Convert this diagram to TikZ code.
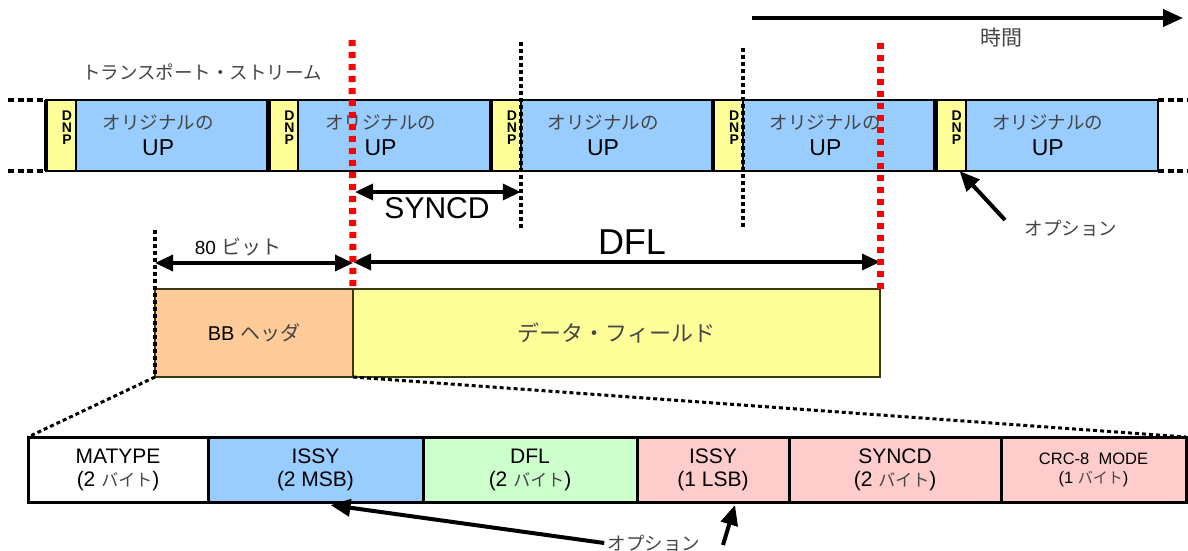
\documentclass[tikz,border=0pt]{standalone}
\usepackage{fontspec}
\setmainfont{Liberation Sans}
\newfontfamily\jpfont{Noto Sans CJK JP}
\usepackage{xcolor}
\usepackage{tikz}
\usetikzlibrary{arrows.meta, positioning}

\definecolor{upblue}{HTML}{99CCFF}
\definecolor{dnpyellow}{HTML}{FFFF99}
\definecolor{hdrorange}{HTML}{FFCC99}
\definecolor{dflgreen}{HTML}{CCFFCC}
\definecolor{optpink}{HTML}{FFCCCC}
\definecolor{jpgray}{HTML}{454545}
\definecolor{boxolive}{HTML}{3A3A10}

\newcommand{\jtext}[2][18.5]{{\jpfont\color{jpgray}\fontsize{#1}{#1}\selectfont #2}}

\begin{document}
\begin{tikzpicture}[
        x=1pt, y=-1pt,
        dnpbox/.style={draw, line width=2pt, fill=dnpyellow, minimum width=30pt, minimum height=71pt, inner sep=0pt, outer sep=0pt},
        upbox/.style={draw, line width=2pt, fill=upblue, minimum width=192.4pt, minimum height=71pt, inner sep=0pt, outer sep=0pt},
        uptext/.style={align=center, font=\fontsize{23}{26}\selectfont},
        dnptext/.style={align=center, inner sep=0pt, font=\fontsize{14}{12.2}\selectfont\bfseries},
        separator/.style={line width=4.5pt},
        streamdots/.style={line width=3.5pt, dash pattern=on 6pt off 3.5pt},
        redcut/.style={red, line width=7pt, dash pattern=on 6pt off 6pt},
        blackcut/.style={line width=4.5pt, dash pattern=on 4pt off 3pt},
        zoomdots/.style={line width=3pt, dash pattern=on 4pt off 3pt},
        dim/.style={{Triangle[length=18pt, width=16pt]}-{Triangle[length=18pt, width=16pt]}, line width=3.5pt},
        arrow/.style={-{Triangle[length=20pt, width=17pt]}, line width=4pt},
        hdrbox/.style={draw=boxolive, line width=1.5pt, minimum height=88pt, inner sep=0pt, outer sep=0pt, font=\fontsize{20}{22}\selectfont},
        field/.style={draw, line width=3pt, minimum height=65pt, inner sep=0pt, outer sep=0pt, align=center, font=\fontsize{21}{23}\selectfont}
    ]
        \useasboundingbox (0,0) rectangle (1188,551);

        % transport stream
        \node[dnpbox, anchor=west] (dnp1) at (46,135.5) {};
        \node[upbox, right=0pt of dnp1] (up1) {};
        \node[dnpbox, right=0pt of up1] (dnp2) {};
        \node[upbox, right=0pt of dnp2] (up2) {};
        \node[dnpbox, right=0pt of up2] (dnp3) {};
        \node[upbox, right=0pt of dnp3] (up3) {};
        \node[dnpbox, right=0pt of up3] (dnp4) {};
        \node[upbox, right=0pt of dnp4] (up4) {};
        \node[dnpbox, right=0pt of up4] (dnp5) {};
        \node[upbox, right=0pt of dnp5] (up5) {};

        \draw[separator] (dnp1.north west) -- (dnp1.south west);
        \draw[separator] (dnp2.north west) -- (dnp2.south west);
        \draw[separator] (dnp3.north west) -- (dnp3.south west);
        \draw[separator] (dnp4.north west) -- (dnp4.south west);
        \draw[separator] (dnp5.north west) -- (dnp5.south west);

        \node[dnptext] (dnptxt1) at ([xshift=6pt, yshift=8pt]dnp1.center) {D\\N\\P};
        \node[dnptext] (dnptxt2) at ([xshift=6pt, yshift=8pt]dnp2.center) {D\\N\\P};
        \node[dnptext] (dnptxt3) at ([xshift=6pt, yshift=8pt]dnp3.center) {D\\N\\P};
        \node[dnptext] (dnptxt4) at ([xshift=6pt, yshift=8pt]dnp4.center) {D\\N\\P};
        \node[dnptext] (dnptxt5) at ([xshift=6pt, yshift=8pt]dnp5.center) {D\\N\\P};

        \node[uptext] (orig1) at ([xshift=-14pt]up1.center) {\jtext{オリジナルの}\\UP};
        \node[uptext] (orig2) at ([xshift=-14pt]up2.center) {\jtext{オリジナルの}\\UP};
        \node[uptext] (orig3) at ([xshift=-14pt]up3.center) {\jtext{オリジナルの}\\UP};
        \node[uptext] (orig4) at ([xshift=-14pt]up4.center) {\jtext{オリジナルの}\\UP};
        \node[uptext] (orig5) at ([xshift=-14pt]up5.center) {\jtext{オリジナルの}\\UP};

        \coordinate (lefttop) at (8,100);
        \coordinate (leftbot) at (8,171);
        \coordinate (righttop) at (1188,100);
        \coordinate (rightbot) at (1188,171);
        \draw[streamdots] (lefttop) -- (dnp1.north west);
        \draw[streamdots] (leftbot) -- (dnp1.south west);
        \draw[streamdots] (up5.north east) -- (righttop);
        \draw[streamdots] (up5.south east) -- (rightbot);

        \node (tslabel) at (202,72) {\jtext{トランスポート・ストリーム}};

        % time axis
        \coordinate (tstart) at (752,18);
        \coordinate (tend) at (1183,18);
        \draw[arrow] (tstart) -- (tend);
        \node (timelabel) at (1001,38) {\jtext[21]{時間}};

        % BB frame
        \node[hdrbox, fill=hdrorange, minimum width=198pt, anchor=north west] (bb) at (155,289) {BB \jtext[20]{ヘッダ}};
        \node[hdrbox, fill=dnpyellow, minimum width=527pt, right=0pt of bb] (data) {\jtext[22]{データ・フィールド}};

        % BB header fields
        \node[field, minimum width=180pt, anchor=north west] (matype) at (28,437) {MATYPE\\(2 \jtext[17]{バイト})};
        \node[field, minimum width=215pt, fill=upblue, right=0pt of matype] (issymsb) {ISSY\\(2 MSB)};
        \node[field, minimum width=214pt, fill=dflgreen, right=0pt of issymsb] (dflfield) {DFL\\(2 \jtext[17]{バイト})};
        \node[field, minimum width=152pt, fill=optpink, right=0pt of dflfield] (issylsb) {ISSY\\(1 LSB)};
        \node[field, minimum width=212pt, fill=optpink, right=0pt of issylsb] (syncdfield) {SYNCD\\(2 \jtext[17]{バイト})};
        \node[field, minimum width=185pt, fill=optpink, right=0pt of syncdfield, font=\fontsize{16.5}{19}\selectfont] (crcmode) {CRC-8~~MODE\\(1 \jtext[15]{バイト})};

        \draw[zoomdots] (bb.south west) -- (matype.north west);
        \draw[zoomdots] (bb.south east) -- (crcmode.north east);

        % lengths
        \draw[dim] ([yshift=26pt]bb.north west) -- ([yshift=26pt]bb.north east);
        \draw[dim] ([yshift=27pt]data.north west) -- ([yshift=27pt]data.north east);
        \node (bitslabel) at (238,247) {\fontsize{19}{21}\selectfont 80 \jtext[20]{ビット}};
        \node (dfllabel) at (632,242) {\fontsize{36}{38}\selectfont DFL};

        \coordinate (syncstart) at (355,192);
        \draw[dim] (syncstart) -- ([yshift=-21pt]dnp3.south east);
        \node (syncdlabel) at (437,208) {\fontsize{30}{32}\selectfont SYNCD};

        % cut lines
        \draw[blackcut] ([yshift=58pt]dnp3.north east) -- ([yshift=-57pt]dnp3.south east);
        \draw[blackcut] ([yshift=52pt]dnp4.north east) -- ([yshift=-57pt]dnp4.south east);
        \draw[blackcut] ([yshift=59pt]bb.north west) -- (bb.south west);

        \coordinate (redtopA) at (352,40);
        \coordinate (redtopB) at (880,43);
        \draw[redcut] (redtopA) -- (bb.north east);
        \draw[redcut] (redtopB) -- (data.north east);

        % options
        \node (opttop) at (1071,228) {\jtext{オプション}};
        \coordinate (opttoptail) at (1005,220);
        \draw[arrow] (opttoptail) -- ([xshift=-6pt]dnp5.south east);

        \node (optbottom) at (654,543) {\jtext{オプション}};
        \coordinate (optlsbtail) at (723,545);
        \draw[arrow] (optbottom.west) -- ([xshift=15pt, yshift=-3pt]issymsb.south);
        \draw[arrow] (optlsbtail) -- ([xshift=22pt, yshift=-3pt]issylsb.south);
    \end{tikzpicture}
\end{document}
